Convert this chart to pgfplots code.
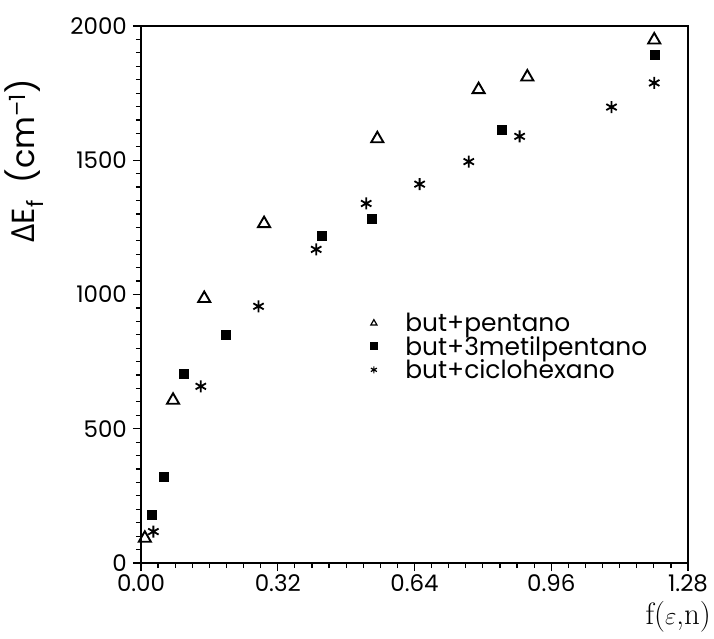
\documentclass[border=0pt]{standalone}
\usepackage{fontspec}
\setmainfont{Poppins}
\newfontfamily\grk{Open Sans}
\newfontfamily\lmr{Latin Modern Roman}
\usepackage{pgfplots}
\pgfplotsset{compat=1.18}
\begin{document}
\begin{tikzpicture}
\useasboundingbox (-141bp,-76bp) rectangle (573bp,563bp);
\begin{axis}[
  at={(0,0)}, anchor=south west,
  scale only axis, width=547bp, height=537bp,
  xmin=0, xmax=1.28, ymin=0, ymax=2000,
  xtick={0,0.32,0.64,0.96,1.28}, ytick={0,500,1000,1500,2000},
  minor x tick num=7, minor y tick num=9,
  tick align=outside, tick pos=left,
  major tick length=8bp, minor tick length=5bp,
  axis line style={line width=1.6bp},
  every tick/.style={line width=1.2bp, black},
  /pgf/number format/assume math mode=true,
  x tick label style={/pgf/number format/fixed, /pgf/number format/fixed zerofill, /pgf/number format/precision=2, inner sep=1bp, yshift=-2bp},
  y tick label style={/pgf/number format/1000 sep={}, inner sep=1bp, xshift=-5bp},
  tick label style={font=\fontsize{23}{25}\selectfont},
  xlabel={{\lmr f(}$\varepsilon${\lmr ,n)}},
  xlabel style={at={(axis description cs:1,0)}, anchor=north east, xshift=23bp, yshift=-38bp, inner sep=0bp, font=\fontsize{31}{33}\selectfont},
  ylabel={{\grk Δ}E\textsubscript{f}\ \ (cm\textsuperscript{--1})},
  ylabel style={at={(axis description cs:-0.214,0.749)}, anchor=center, rotate=0, font=\fontsize{32}{34}\selectfont},
  legend style={at={(axis description cs:0.419,0.4655)}, anchor=north west, draw=none, fill=none,
    font=\fontsize{25}{25}\selectfont, row sep=3bp, inner sep=0pt,
    nodes={inner sep=0pt},
    /tikz/every odd column/.style={column sep=28bp}},
  legend cell align=left,
  legend image code/.code={\draw[#1, mark size=3.5bp, line width=1.2bp] plot coordinates {(0bp,0bp)};},
]
\addplot[only marks, mark=triangle, mark size=7bp, line width=1.9bp] coordinates {
(0.009,92) (0.075,606) (0.148,985) (0.288,1264) (0.553,1580) (0.790,1763) (0.904,1810) (1.201,1948)};
\addlegendentry{but+pentano}
\addplot[only marks, mark=square*, mark size=4.5bp] coordinates {
(0.026,181) (0.053,320) (0.100,704) (0.198,852) (0.422,1218) (0.540,1283) (0.844,1613) (1.201,1894)};
\addlegendentry{but+3metilpentano}
\addplot[only marks, mark=asterisk, mark size=6bp, line width=1.8bp] coordinates {
(0.029,117) (0.140,658) (0.275,956) (0.410,1168) (0.527,1339) (0.652,1411) (0.767,1495) (0.886,1589) (1.101,1698) (1.201,1788)};
\addlegendentry{but+ciclohexano}
\end{axis}
\end{tikzpicture}
\end{document}
